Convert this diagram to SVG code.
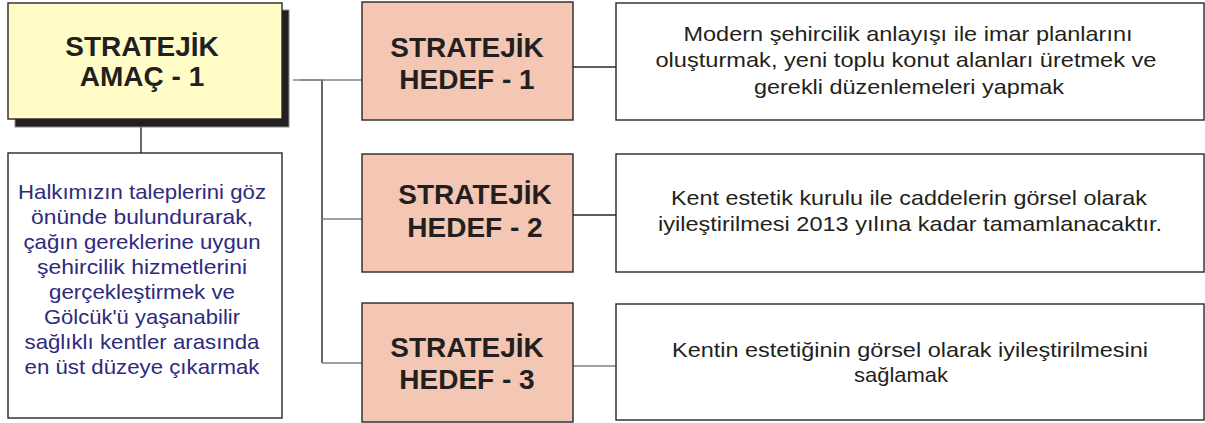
<svg xmlns="http://www.w3.org/2000/svg" width="1205" height="423" viewBox="0 0 1205 423">
<style>
.box{stroke:#2b2527;stroke-width:1.4}
.amac{fill:#fffcc8}
.hedef{fill:#f4c6b4}
.plain{fill:#ffffff}
.shadow{fill:#231f20;stroke:#8a8a8a;stroke-width:1}
.big{font-family:"Liberation Sans",Arial,sans-serif;font-weight:bold;font-size:28px;fill:#231f20;text-anchor:middle}
.desc{font-family:"Liberation Sans",Arial,sans-serif;font-size:21px;fill:#231f20;text-anchor:middle}
.blue{font-family:"Liberation Sans",Arial,sans-serif;font-size:21px;fill:#2e2a7c;text-anchor:middle}
.conn{fill:none;stroke-width:1.4}
</style>
<rect width="1205" height="423" fill="#ffffff"/>
<g id="connectors">
<path class="conn" stroke="#808080" d="M293 80H322"/>
<path class="conn" stroke="#2b2527" d="M322 80V363"/>
<path class="conn" stroke="#808080" d="M300 80H362"/>
<path class="conn" stroke="#808080" d="M322 219H362"/>
<path class="conn" stroke="#808080" d="M322 363H362"/>
<path class="conn" stroke="#2b2527" d="M141 127V153"/>
<path class="conn" stroke="#2b2527" d="M573 67H616"/>
<path class="conn" stroke="#2b2527" d="M573 215H616"/>
<path class="conn" stroke="#808080" d="M573 366H616"/>
</g>
<g id="amac1">
<rect class="shadow" x="15" y="10" width="274" height="117"/>
<rect class="box amac" x="8" y="3" width="274" height="116"/>
<text class="big" x="142" y="56">STRATEJİK</text>
<text class="big" x="142" y="86">AMAÇ - 1</text>
</g>
<g id="amac-aciklama">
<rect class="box plain" x="8" y="153" width="274" height="265"/>
<text class="blue" x="142" y="199" textLength="248" lengthAdjust="spacingAndGlyphs">Halkımızın taleplerini göz</text>
<text class="blue" x="142" y="224" textLength="222" lengthAdjust="spacingAndGlyphs">önünde bulundurarak,</text>
<text class="blue" x="142" y="249" textLength="237" lengthAdjust="spacingAndGlyphs">çağın gereklerine uygun</text>
<text class="blue" x="142" y="274" textLength="210" lengthAdjust="spacingAndGlyphs">şehircilik hizmetlerini</text>
<text class="blue" x="142" y="299" textLength="186" lengthAdjust="spacingAndGlyphs">gerçekleştirmek ve</text>
<text class="blue" x="142" y="324" textLength="196" lengthAdjust="spacingAndGlyphs">Gölcük'ü yaşanabilir</text>
<text class="blue" x="142" y="349" textLength="235" lengthAdjust="spacingAndGlyphs">sağlıklı kentler arasında</text>
<text class="blue" x="142" y="374" textLength="235" lengthAdjust="spacingAndGlyphs">en üst düzeye çıkarmak</text>
</g>
<g id="hedef1">
<rect class="box hedef" x="362" y="2" width="211" height="118"/>
<text class="big" x="467" y="57">STRATEJİK</text>
<text class="big" x="467" y="89">HEDEF - 1</text>
</g>
<g id="hedef2">
<rect class="box hedef" x="362" y="154" width="211" height="118"/>
<text class="big" x="475" y="204">STRATEJİK</text>
<text class="big" x="475" y="237">HEDEF - 2</text>
</g>
<g id="hedef3">
<rect class="box hedef" x="362" y="303" width="211" height="119"/>
<text class="big" x="467" y="357">STRATEJİK</text>
<text class="big" x="467" y="389">HEDEF - 3</text>
</g>
<g id="aciklama1">
<rect class="box plain" x="616" y="3" width="588" height="117"/>
<text class="desc" x="908" y="41" textLength="449" lengthAdjust="spacingAndGlyphs">Modern şehircilik anlayışı ile imar planlarını</text>
<text class="desc" x="906" y="67" textLength="501" lengthAdjust="spacingAndGlyphs">oluşturmak, yeni toplu konut alanları üretmek ve</text>
<text class="desc" x="909" y="94" textLength="310" lengthAdjust="spacingAndGlyphs">gerekli düzenlemeleri yapmak</text>
</g>
<g id="aciklama2">
<rect class="box plain" x="616" y="154" width="588" height="118"/>
<text class="desc" x="909" y="205" textLength="476" lengthAdjust="spacingAndGlyphs">Kent estetik kurulu ile caddelerin görsel olarak</text>
<text class="desc" x="910" y="231" textLength="504" lengthAdjust="spacingAndGlyphs">iyileştirilmesi 2013 yılına kadar tamamlanacaktır.</text>
</g>
<g id="aciklama3">
<rect class="box plain" x="616" y="304" width="588" height="116"/>
<text class="desc" x="910" y="357" textLength="476" lengthAdjust="spacingAndGlyphs">Kentin estetiğinin görsel olarak iyileştirilmesini</text>
<text class="desc" x="901" y="382" textLength="94" lengthAdjust="spacingAndGlyphs">sağlamak</text>
</g>
</svg>
